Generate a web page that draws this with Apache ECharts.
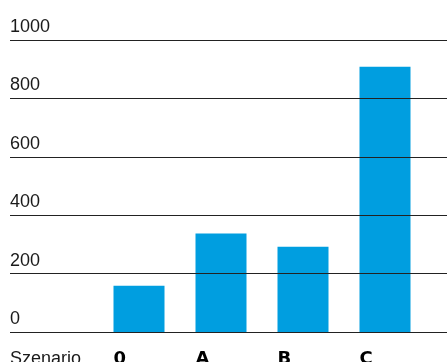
<!DOCTYPE html>
<html>
<head>
<meta charset="utf-8">
<script src="https://cdn.jsdelivr.net/npm/echarts@6/dist/echarts.min.js"></script>
<style>
  html, body { margin: 0; padding: 0; background: #fff; }
  #chart { width: 447px; height: 362px; }
</style>
</head>
<body>
<div id="chart"></div>
<script>
// Szenarien und Werte
var categories = ['0', 'A', 'B', 'C'];
var values = [158, 337, 292, 908];
var axisTitle = 'Szenario';
var yMin = 0, yMax = 1000, yStep = 200;

var myChart = echarts.init(document.getElementById('chart'));
var textFont = 'Liberation Sans';

var option = {
    animation: false,
    title: {
        text: axisTitle,
        left: 10,
        top: 350,
        padding: 0,
        textStyle: {
            fontFamily: textFont,
            fontSize: 18,
            fontWeight: 'normal',
            color: '#1a1a1a'
        }
    },
    grid: [
        // volle Breite fuer die Linien
        { left: 10, right: 0, top: 40, height: 292, outerBoundsMode: 'none' },
        // Balken
        { left: 98, width: 328, top: 40, height: 292, outerBoundsMode: 'none' }
    ],
    xAxis: [
        { type: 'value', gridIndex: 0, show: false },
        {
            type: 'category',
            gridIndex: 1,
            data: categories,
            axisLine: { show: false },
            axisTick: { show: false },
            axisLabel: {
                interval: 0,
                align: 'left',
                verticalAlign: 'top',
                margin: 18,
                padding: [0, 0, 0, -25.5],
                fontFamily: 'DejaVu Sans',
                fontWeight: 'bold',
                fontSize: 18,
                color: '#000'
            }
        }
    ],
    yAxis: [
        {
            type: 'value',
            gridIndex: 0,
            min: yMin,
            max: yMax,
            interval: yStep,
            z: 10,
            axisLine: { show: false },
            axisTick: { show: false },
            splitLine: { lineStyle: { color: '#222', width: 1 } },
            axisLabel: {
                inside: true,
                margin: 0,
                align: 'left',
                verticalAlign: 'bottom',
                padding: [0, 0, 4, 0],
                formatter: function (v) { return String(v); },
                fontFamily: textFont,
                fontSize: 18,
                color: '#1a1a1a'
            }
        },
        {
            type: 'value',
            gridIndex: 1,
            min: yMin,
            max: yMax,
            interval: yStep,
            show: false,
            splitLine: { show: false }
        }
    ],
    series: [{
        type: 'bar',
        xAxisIndex: 1,
        yAxisIndex: 1,
        data: values,
        barWidth: 51,
        itemStyle: { color: '#009ee0' }
    }]
};
myChart.setOption(option);
</script>
</body>
</html>
